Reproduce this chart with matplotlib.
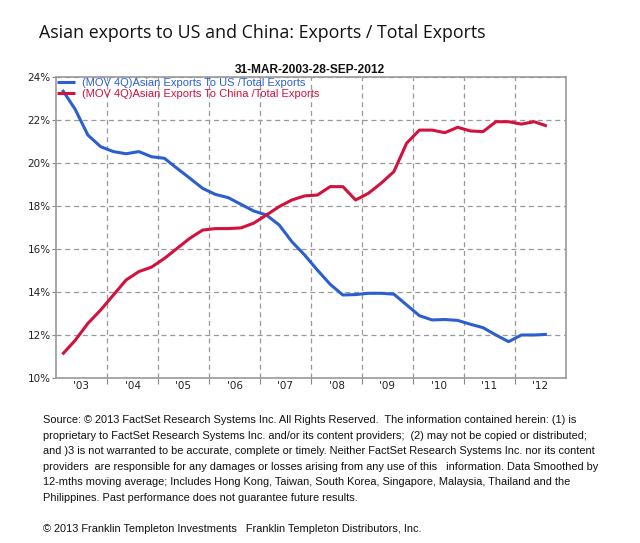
import matplotlib
matplotlib.use("Agg")
import matplotlib.pyplot as plt
from matplotlib.ticker import FixedLocator, NullFormatter, FuncFormatter

# ---- data (quarterly, 12-month moving averages, % of total exports) ----
quarters = [2003.125 + 0.25 * i for i in range(39)]  # Mar-2003 .. Sep-2012 (mid-quarter)
us_share = [23.4, 22.5, 21.3, 20.76, 20.53, 20.43, 20.53, 20.29, 20.22, 19.75,
            19.29, 18.82, 18.54, 18.39, 18.08, 17.77, 17.58, 17.12, 16.34, 15.72,
            15.02, 14.36, 13.86, 13.88, 13.94, 13.94, 13.9, 13.4, 12.9, 12.7,
            12.72, 12.68, 12.5, 12.34, 12.0, 11.69, 12.0, 12.0, 12.03]
china_share = [11.1, 11.75, 12.54, 13.16, 13.86, 14.56, 14.95, 15.16, 15.56, 16.03,
               16.5, 16.88, 16.95, 16.95, 16.98, 17.2, 17.58, 17.97, 18.28, 18.47,
               18.51, 18.9, 18.9, 18.28, 18.59, 19.06, 19.6, 20.92, 21.53, 21.53,
               21.41, 21.66, 21.49, 21.46, 21.92, 21.92, 21.81, 21.92, 21.72]
year_labels = ["'03", "'04", "'05", "'06", "'07", "'08", "'09", "'10", "'11", "'12"]
y_ticks = [10, 12, 14, 16, 18, 20, 22, 24]

label_us = "(MOV 4Q)Asian Exports To US /Total Exports"
label_cn = "(MOV 4Q)Asian Exports To China /Total Exports"
title = "Asian exports to US and China: Exports / Total Exports"
subtitle = "31-MAR-2003-28-SEP-2012"
footnote = ("Source: \u00a9 2013 FactSet Research Systems Inc. All Rights Reserved.  The information contained herein: (1) is\n"
            "proprietary to FactSet Research Systems Inc. and/or its content providers;  (2) may not be copied or distributed;\n"
            "and )3 is not warranted to be accurate, complete or timely. Neither FactSet Research Systems Inc. nor its content\n"
            "providers  are responsible for any damages or losses arising from any use of this   information. Data Smoothed by\n"
            "12-mths moving average; Includes Hong Kong, Taiwan, South Korea, Singapore, Malaysia, Thailand and the\n"
            "Philippines. Past performance does not guarantee future results.")
copyright_line = "\u00a9 2013 Franklin Templeton Investments   Franklin Templeton Distributors, Inc."

BLUE = "#2b5fcf"
RED = "#d2113c"

fig = plt.figure(figsize=(6.4, 5.43), dpi=100)
ax = fig.add_axes([56 / 640, 1 - 378 / 543, 510 / 640, 301 / 543])

ax.plot(quarters, us_share, color=BLUE, lw=2.2, label=label_us, solid_capstyle="butt")
ax.plot(quarters, china_share, color=RED, lw=2.2, label=label_cn, solid_capstyle="butt")

ax.set_xlim(2003, 2013)
ax.set_ylim(10, 24)

# year boundaries as grid / ticks, labels centered in year
ax.xaxis.set_major_locator(FixedLocator(list(range(2004, 2013))))
ax.xaxis.set_major_formatter(NullFormatter())
ax.xaxis.set_minor_locator(FixedLocator([y + 0.5 for y in range(2003, 2013)]))
ax.xaxis.set_minor_formatter(FuncFormatter(lambda v, p: year_labels[int(v - 2003)]))
ax.tick_params(axis="x", which="minor", length=0, labelsize=7.5, pad=2, colors="#222222")
ax.tick_params(axis="x", which="major", length=4, direction="out", color="#888888")

ax.yaxis.set_major_locator(FixedLocator(y_ticks))
ax.yaxis.set_major_formatter(FuncFormatter(lambda v, p: f"{int(v)}%"))
ax.tick_params(axis="y", length=3, labelsize=7.5, pad=1, color="#888888", labelcolor="#222222")

ax.grid(True, which="major", color="#999999", linestyle=(0, (4, 3)), linewidth=0.9)
for s in ax.spines.values():
    s.set_color("#999999")
    s.set_linewidth(1.2)

leg = ax.legend(loc="upper left", frameon=False, handlelength=1.6, handletextpad=0.6,
                borderaxespad=0.0, borderpad=0.1, labelspacing=0.05,
                prop={"family": "Liberation Sans", "size": 8}, labelcolor="linecolor")

fig.text(39 / 640, 1 - 33 / 543, title, fontsize=12.8, family="Open Sans",
         va="center", ha="left", color="#111111")
fig.text(310 / 640, 1 - 70 / 543, subtitle, fontsize=8.6, weight="bold",
         family="Liberation Sans", va="center", ha="center", color="#111111")
fig.text(43 / 640, 1 - 415 / 543, footnote, fontsize=7.9, family="Liberation Sans",
         va="top", ha="left", linespacing=1.69, color="#111111")
fig.text(43 / 640, 1 - 529 / 543, copyright_line, fontsize=7.9,
         family="Liberation Sans", va="center", ha="left", color="#111111")

fig.savefig("out.png", dpi=100)
